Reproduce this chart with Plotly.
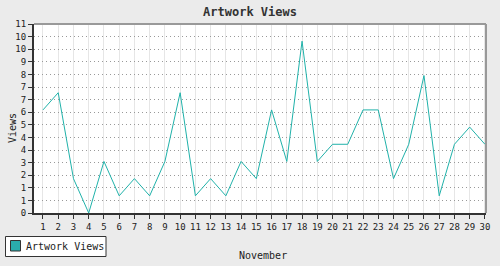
import plotly.graph_objects as go

days = list(range(1, 31))
views = [6, 7, 2, 0, 3, 1, 2, 1, 3, 7, 1, 2, 1, 3, 2, 6, 3, 10, 3, 4, 4, 6, 6, 2, 4, 8, 1, 4, 5, 4]
y_tickvals = [11 * k / 15 for k in range(16)]
y_ticktext = [str(int(round(v + 1e-9))) for v in y_tickvals]
x_ticktext = [str(d) for d in days]
series_name = "Artwork Views"

teal = "#20b2aa"
mono = "DejaVu Sans Mono"

W, H = 500, 266
L, R, T, B = 34, 14, 24, 53
pw, ph = W - L - R, H - T - B


def px(x):
    return (x - L) / pw


def py(y):
    return (H - B - y) / ph


fig = go.Figure()
fig.add_trace(go.Scatter(x=days, y=views, mode="lines", line=dict(color=teal, width=1),
                         name=series_name, showlegend=False))

fig.update_layout(
    width=W, height=H,
    margin=dict(l=L, r=R, t=T, b=B, autoexpand=False),
    paper_bgcolor="#ebebeb", plot_bgcolor="white",
    title=dict(text="<b>" + series_name + "</b>", x=0.5, xanchor="center", y=1 - 12 / H, yanchor="middle",
               font=dict(family=mono, size=12, color="#333")),
    font=dict(family=mono, size=9, color="#222"),
    showlegend=False,
    xaxis=dict(range=[0.41, 30.07], tickmode="array", tickvals=days, ticktext=x_ticktext,
               showgrid=True, gridcolor="#e6e6e6", gridwidth=1,
               showline=True, linecolor="#333", linewidth=2,
               ticks="outside", ticklen=4, tickcolor="#333", tickfont=dict(size=9),
               zeroline=False, fixedrange=True, automargin=False),
    yaxis=dict(range=[0, 11], tickmode="array", tickvals=y_tickvals, ticktext=y_ticktext,
               showgrid=True, gridcolor="#999", griddash="1px,3px", gridwidth=1,
               showline=True, linecolor="#333", linewidth=2,
               ticks="outside", ticklen=4, tickcolor="#333", tickfont=dict(size=9),
               zeroline=False, fixedrange=True, automargin=False),
    shapes=[
        dict(type="line", xref="paper", yref="paper", x0=0, x1=1, y0=1, y1=1,
             line=dict(color="#999", width=2)),
        dict(type="line", xref="paper", yref="paper", x0=1, x1=1, y0=0, y1=1,
             line=dict(color="#999", width=2)),
        # legend box
        dict(type="rect", xref="paper", yref="paper", x0=px(5.5), x1=px(106), y0=py(236.5), y1=py(256.5),
             line=dict(color="#333", width=1), fillcolor="white"),
        dict(type="rect", xref="paper", yref="paper", x0=px(10.5), x1=px(20.5), y0=py(240.5), y1=py(251),
             line=dict(color="#333", width=1), fillcolor="#2aacac"),
    ],
    annotations=[
        dict(text=series_name, xref="paper", yref="paper", x=px(24), y=py(246), xanchor="left",
             yanchor="middle", showarrow=False, font=dict(family=mono, size=10, color="#222")),
        dict(text="November", xref="paper", yref="paper", x=px(263), y=py(255), xanchor="center",
             yanchor="middle", showarrow=False, font=dict(family=mono, size=10, color="#222")),
        dict(text="Views", xref="paper", yref="paper", x=px(12), y=py(128), xanchor="center",
             yanchor="middle", showarrow=False, textangle=-90, font=dict(family=mono, size=10, color="#222")),
    ],
)

fig.write_html("out.html")
